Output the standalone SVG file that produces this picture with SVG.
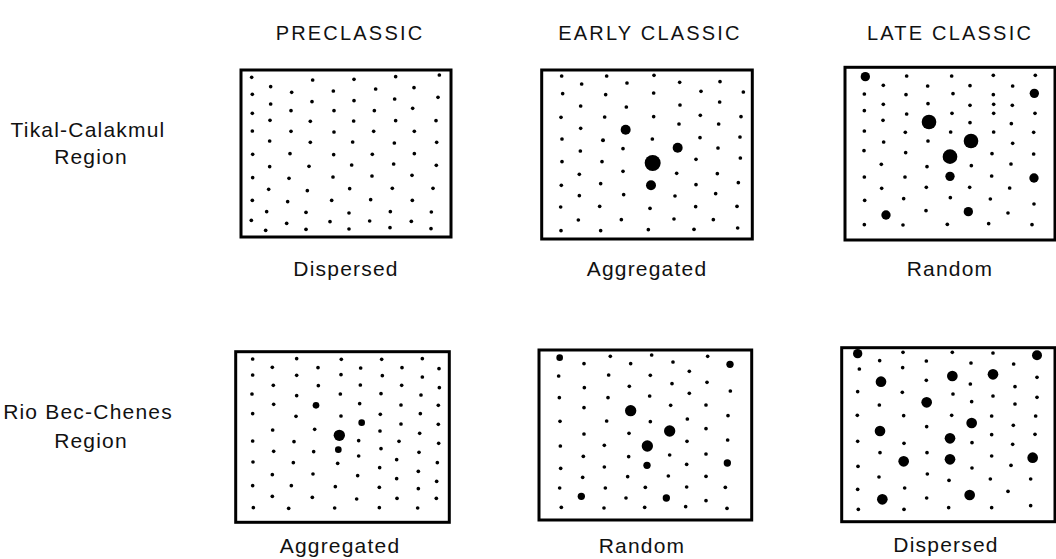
<svg xmlns="http://www.w3.org/2000/svg" width="1056" height="559" viewBox="0 0 1056 559">
<style>
.bg{fill:#fff}
.box{fill:#fff;stroke:#000;stroke-width:3}
.dots circle{fill:#000}
.hdr{font-family:"Liberation Sans",Arial,sans-serif;font-size:20px;letter-spacing:2.2px;text-anchor:middle;fill:#111}
.lbl{font-family:"Liberation Sans",Arial,sans-serif;font-size:21px;letter-spacing:1.2px;text-anchor:middle;fill:#111}
</style>
<rect class="bg" x="0" y="0" width="1056" height="559"/>
<g id="headers">
<text class="hdr" x="350" y="40">PRECLASSIC</text>
<text class="hdr" x="650" y="40">EARLY CLASSIC</text>
<text class="hdr" x="950" y="40">LATE CLASSIC</text>
</g>
<g id="row-labels">
<text class="lbl" x="88" y="137">Tikal-Calakmul</text>
<text class="lbl" x="91" y="164">Region</text>
<text class="lbl" x="88" y="419">Rio Bec-Chenes</text>
<text class="lbl" x="91" y="448">Region</text>
</g>
<g id="p1">
<rect class="box" x="241" y="70" width="210" height="167"/>
<g class="dots" transform="translate(230 60) scale(0.33333)">
<circle cx="65" cy="52" r="5.5"/><circle cx="248" cy="60" r="5.5"/><circle cx="372" cy="58" r="5.5"/><circle cx="497" cy="50" r="5.5"/><circle cx="628" cy="45" r="5.5"/>
<circle cx="122" cy="80" r="5.5"/><circle cx="185" cy="97" r="5.5"/><circle cx="310" cy="93" r="5.5"/><circle cx="437" cy="87" r="5.5"/><circle cx="552" cy="83" r="5.5"/>
<circle cx="67" cy="103" r="5.5"/><circle cx="122" cy="132" r="5.5"/><circle cx="246" cy="125" r="5.5"/><circle cx="372" cy="122" r="5.5"/><circle cx="494" cy="117" r="5.5"/><circle cx="624" cy="112" r="5.5"/>
<circle cx="67" cy="160" r="5.5"/><circle cx="183" cy="152" r="5.5"/><circle cx="312" cy="152" r="5.5"/><circle cx="433" cy="152" r="5.5"/><circle cx="548" cy="145" r="5.5"/>
<circle cx="120" cy="181" r="5.5"/><circle cx="241" cy="184" r="5.5"/><circle cx="371" cy="183" r="5.5"/><circle cx="497" cy="182" r="5.5"/><circle cx="618" cy="182" r="5.5"/>
<circle cx="67" cy="213" r="5.5"/><circle cx="183" cy="214" r="5.5"/><circle cx="312" cy="216" r="5.5"/><circle cx="431" cy="214" r="5.5"/><circle cx="553" cy="214" r="5.5"/>
<circle cx="119" cy="243" r="5.5"/><circle cx="241" cy="247" r="5.5"/><circle cx="368" cy="246" r="5.5"/><circle cx="493" cy="249" r="5.5"/><circle cx="620" cy="247" r="5.5"/>
<circle cx="68" cy="283" r="5.5"/><circle cx="180" cy="281" r="5.5"/><circle cx="311" cy="284" r="5.5"/><circle cx="427" cy="283" r="5.5"/><circle cx="553" cy="281" r="5.5"/>
<circle cx="119" cy="320" r="5.5"/><circle cx="237" cy="319" r="5.5"/><circle cx="365" cy="315" r="5.5"/><circle cx="491" cy="312" r="5.5"/><circle cx="619" cy="316" r="5.5"/>
<circle cx="68" cy="353" r="5.5"/><circle cx="177" cy="355" r="5.5"/><circle cx="309" cy="351" r="5.5"/><circle cx="426" cy="348" r="5.5"/><circle cx="546" cy="346" r="5.5"/>
<circle cx="116" cy="388" r="5.5"/><circle cx="232" cy="392" r="5.5"/><circle cx="359" cy="386" r="5.5"/><circle cx="487" cy="385" r="5.5"/><circle cx="609" cy="385" r="5.5"/>
<circle cx="67" cy="421" r="5.5"/><circle cx="173" cy="425" r="5.5"/><circle cx="305" cy="421" r="5.5"/><circle cx="422" cy="419" r="5.5"/><circle cx="547" cy="421" r="5.5"/>
<circle cx="110" cy="455" r="5.5"/><circle cx="228" cy="457" r="5.5"/><circle cx="357" cy="459" r="5.5"/><circle cx="481" cy="455" r="5.5"/><circle cx="604" cy="456" r="5.5"/>
<circle cx="64" cy="481" r="5.5"/><circle cx="170" cy="490" r="5.5"/><circle cx="300" cy="485" r="5.5"/><circle cx="419" cy="483" r="5.5"/><circle cx="544" cy="484" r="5.5"/>
<circle cx="107" cy="511" r="5.5"/><circle cx="228" cy="508" r="5.5"/><circle cx="357" cy="507" r="5.5"/><circle cx="480" cy="503" r="5.5"/><circle cx="603" cy="506" r="5.5"/>
</g>
<text class="lbl" x="346" y="276">Dispersed</text>
</g>
<g id="p2">
<rect class="box" x="541.7" y="70" width="210.6" height="169"/>
<g class="dots" transform="translate(530 60) scale(0.33333)">
<circle cx="95" cy="48" r="5.5"/><circle cx="230" cy="48" r="5.5"/><circle cx="372" cy="46" r="5.5"/><circle cx="570" cy="65" r="5.5"/>
<circle cx="155" cy="72" r="5.5"/><circle cx="291" cy="69" r="5.5"/><circle cx="449" cy="67" r="5.5"/>
<circle cx="98" cy="101" r="5.5"/><circle cx="227" cy="104" r="5.5"/><circle cx="371" cy="99" r="5.5"/><circle cx="513" cy="94" r="5.5"/><circle cx="640" cy="96" r="5.5"/>
<circle cx="152" cy="138" r="5.5"/><circle cx="289" cy="141" r="5.5"/><circle cx="450" cy="135" r="5.5"/><circle cx="569" cy="126" r="5.5"/>
<circle cx="93" cy="172" r="5.5"/><circle cx="224" cy="171" r="5.5"/><circle cx="371" cy="170" r="5.5"/><circle cx="511" cy="166" r="5.5"/><circle cx="633" cy="170" r="5.5"/>
<circle cx="152" cy="205" r="5.5"/><circle cx="566" cy="192" r="5.5"/><circle cx="447" cy="192" r="5.5"/>
<circle cx="287" cy="209" r="15"/>
<circle cx="96" cy="237" r="5.5"/><circle cx="219" cy="241" r="6"/><circle cx="367" cy="237" r="5.5"/><circle cx="510" cy="233" r="5.5"/><circle cx="630" cy="231" r="5.5"/>
<circle cx="151" cy="273" r="5.5"/><circle cx="279" cy="266" r="5.5"/><circle cx="564" cy="264" r="5.5"/>
<circle cx="443" cy="263" r="15"/>
<circle cx="96" cy="305" r="5.5"/><circle cx="216" cy="305" r="5.5"/><circle cx="498" cy="298" r="5.5"/><circle cx="631" cy="294" r="5.5"/>
<circle cx="368" cy="309" r="24"/>
<circle cx="148" cy="343" r="5.5"/><circle cx="279" cy="334" r="5.5"/><circle cx="440" cy="340" r="5.5"/><circle cx="562" cy="341" r="5.5"/>
<circle cx="363" cy="376" r="15"/>
<circle cx="94" cy="376" r="5.5"/><circle cx="212" cy="371" r="5.5"/><circle cx="498" cy="374" r="5.5"/><circle cx="625" cy="368" r="5.5"/>
<circle cx="148" cy="407" r="5.5"/><circle cx="281" cy="404" r="5.5"/><circle cx="435" cy="408" r="5.5"/><circle cx="557" cy="401" r="5.5"/>
<circle cx="92" cy="441" r="5.5"/><circle cx="209" cy="439" r="5.5"/><circle cx="360" cy="445" r="5.5"/><circle cx="497" cy="440" r="5.5"/><circle cx="621" cy="439" r="5.5"/>
<circle cx="145" cy="480" r="5.5"/><circle cx="274" cy="479" r="5.5"/><circle cx="432" cy="477" r="5.5"/><circle cx="550" cy="479" r="5.5"/>
<circle cx="93" cy="512" r="5.5"/><circle cx="212" cy="512" r="5.5"/><circle cx="355" cy="509" r="5.5"/><circle cx="492" cy="508" r="5.5"/><circle cx="623" cy="504" r="5.5"/>
</g>
<text class="lbl" x="647" y="276">Aggregated</text>
</g>
<g id="p3">
<rect class="box" x="845" y="67.3" width="210" height="172.7"/>
<g class="dots" transform="translate(835 60) scale(0.33333)">
<circle cx="91" cy="50" r="14"/>
<circle cx="215" cy="48" r="5.5"/><circle cx="350" cy="48" r="5.5"/><circle cx="475" cy="46" r="5.5"/><circle cx="601" cy="46" r="5.5"/>
<circle cx="145" cy="76" r="5.5"/><circle cx="278" cy="78" r="5.5"/><circle cx="405" cy="77" r="5.5"/><circle cx="533" cy="78" r="5.5"/>
<circle cx="88" cy="102" r="5.5"/><circle cx="213" cy="104" r="5.5"/><circle cx="354" cy="101" r="5.5"/><circle cx="475" cy="104" r="5.5"/>
<circle cx="598" cy="100" r="14"/>
<circle cx="145" cy="133" r="5.5"/><circle cx="279" cy="131" r="5.5"/><circle cx="405" cy="136" r="5.5"/><circle cx="476" cy="133" r="5.5"/><circle cx="532" cy="136" r="5.5"/>
<circle cx="88" cy="152" r="5.5"/><circle cx="215" cy="162" r="5.5"/><circle cx="351" cy="160" r="5.5"/><circle cx="476" cy="160" r="5.5"/><circle cx="600" cy="160" r="5.5"/>
<circle cx="144" cy="181" r="5.5"/><circle cx="405" cy="188" r="5.5"/><circle cx="529" cy="191" r="5.5"/>
<circle cx="282" cy="186" r="22"/>
<circle cx="88" cy="213" r="5.5"/><circle cx="211" cy="217" r="5.5"/><circle cx="347" cy="216" r="5.5"/><circle cx="476" cy="216" r="5.5"/><circle cx="596" cy="217" r="5.5"/>
<circle cx="408" cy="243" r="22"/>
<circle cx="146" cy="246" r="5.5"/><circle cx="279" cy="243" r="5.5"/><circle cx="533" cy="250" r="5.5"/>
<circle cx="87" cy="272" r="5.5"/><circle cx="212" cy="278" r="5.5"/><circle cx="471" cy="281" r="5.5"/><circle cx="596" cy="282" r="5.5"/>
<circle cx="345" cy="290" r="22"/>
<circle cx="139" cy="313" r="5.5"/><circle cx="276" cy="320" r="5.5"/><circle cx="409" cy="317" r="5.5"/><circle cx="528" cy="312" r="5.5"/>
<circle cx="345" cy="349" r="14"/>
<circle cx="88" cy="351" r="5.5"/><circle cx="210" cy="351" r="5.5"/><circle cx="470" cy="348" r="5.5"/>
<circle cx="597" cy="354" r="14"/>
<circle cx="140" cy="385" r="5.5"/><circle cx="274" cy="382" r="5.5"/><circle cx="404" cy="382" r="5.5"/><circle cx="524" cy="384" r="5.5"/>
<circle cx="89" cy="421" r="5.5"/><circle cx="206" cy="416" r="5.5"/><circle cx="346" cy="413" r="5.5"/><circle cx="466" cy="417" r="5.5"/><circle cx="597" cy="432" r="5.5"/>
<circle cx="153" cy="465" r="14"/>
<circle cx="273" cy="452" r="5.5"/><circle cx="519" cy="459" r="5.5"/>
<circle cx="400" cy="455" r="14"/>
<circle cx="88" cy="494" r="5.5"/><circle cx="204" cy="495" r="5.5"/><circle cx="337" cy="493" r="5.5"/><circle cx="461" cy="491" r="5.5"/><circle cx="591" cy="494" r="5.5"/>
</g>
<text class="lbl" x="950" y="276">Random</text>
</g>
<g id="p4">
<rect class="box" x="235.7" y="351.7" width="213.6" height="170.6"/>
<g class="dots" transform="translate(230 325) scale(0.33333)">
<circle cx="68" cy="102" r="5.5"/><circle cx="200" cy="101" r="5.5"/><circle cx="334" cy="103" r="5.5"/><circle cx="455" cy="103" r="5.5"/><circle cx="577" cy="101" r="5.5"/>
<circle cx="127" cy="127" r="5.5"/><circle cx="264" cy="128" r="5.5"/><circle cx="392" cy="129" r="5.5"/><circle cx="516" cy="128" r="5.5"/><circle cx="627" cy="131" r="5.5"/>
<circle cx="68" cy="150" r="5.5"/><circle cx="200" cy="151" r="5.5"/><circle cx="333" cy="149" r="5.5"/><circle cx="457" cy="152" r="5.5"/><circle cx="577" cy="156" r="5.5"/>
<circle cx="130" cy="181" r="5.5"/><circle cx="265" cy="182" r="5.5"/><circle cx="391" cy="180" r="5.5"/><circle cx="515" cy="181" r="5.5"/><circle cx="628" cy="188" r="5.5"/>
<circle cx="66" cy="207" r="5.5"/><circle cx="200" cy="212" r="5.5"/><circle cx="331" cy="207" r="5.5"/><circle cx="453" cy="206" r="5.5"/><circle cx="573" cy="210" r="5.5"/>
<circle cx="258" cy="241" r="10"/>
<circle cx="131" cy="238" r="5.5"/><circle cx="389" cy="236" r="5.5"/><circle cx="513" cy="240" r="5.5"/><circle cx="625" cy="241" r="5.5"/>
<circle cx="68" cy="266" r="5.5"/><circle cx="198" cy="274" r="5.5"/><circle cx="333" cy="273" r="5.5"/><circle cx="451" cy="268" r="5.5"/><circle cx="571" cy="266" r="5.5"/>
<circle cx="395" cy="293" r="10"/>
<circle cx="128" cy="315" r="5.5"/><circle cx="254" cy="313" r="5.5"/><circle cx="450" cy="318" r="5.5"/><circle cx="513" cy="297" r="5.5"/><circle cx="569" cy="325" r="5.5"/><circle cx="625" cy="298" r="5.5"/>
<circle cx="328" cy="331" r="17"/>
<circle cx="68" cy="348" r="5.5"/><circle cx="192" cy="350" r="5.5"/><circle cx="386" cy="347" r="5.5"/><circle cx="507" cy="349" r="5.5"/><circle cx="626" cy="355" r="5.5"/>
<circle cx="325" cy="374" r="10"/>
<circle cx="131" cy="379" r="5.5"/><circle cx="251" cy="380" r="5.5"/><circle cx="453" cy="371" r="5.5"/><circle cx="567" cy="382" r="5.5"/>
<circle cx="69" cy="411" r="5.5"/><circle cx="190" cy="413" r="5.5"/><circle cx="323" cy="415" r="5.5"/><circle cx="386" cy="393" r="5.5"/><circle cx="500" cy="404" r="5.5"/><circle cx="622" cy="413" r="5.5"/>
<circle cx="127" cy="449" r="5.5"/><circle cx="249" cy="447" r="5.5"/><circle cx="383" cy="452" r="5.5"/><circle cx="449" cy="428" r="5.5"/><circle cx="565" cy="439" r="5.5"/><circle cx="620" cy="469" r="5.5"/>
<circle cx="68" cy="482" r="5.5"/><circle cx="184" cy="482" r="5.5"/><circle cx="316" cy="485" r="5.5"/><circle cx="448" cy="487" r="5.5"/><circle cx="500" cy="461" r="5.5"/><circle cx="565" cy="491" r="5.5"/>
<circle cx="127" cy="514" r="5.5"/><circle cx="247" cy="517" r="5.5"/><circle cx="380" cy="522" r="5.5"/><circle cx="501" cy="520" r="5.5"/><circle cx="619" cy="520" r="5.5"/>
<circle cx="70" cy="548" r="5.5"/><circle cx="176" cy="550" r="5.5"/><circle cx="314" cy="549" r="5.5"/><circle cx="448" cy="548" r="5.5"/><circle cx="563" cy="549" r="5.5"/>
</g>
<text class="lbl" x="340" y="553">Aggregated</text>
</g>
<g id="p5">
<rect class="box" x="539" y="350" width="212.7" height="170"/>
<g class="dots" transform="translate(530 325) scale(0.33333)">
<circle cx="89" cy="98" r="10"/>
<circle cx="162" cy="116" r="5.5"/><circle cx="241" cy="94" r="5.5"/><circle cx="302" cy="116" r="5.5"/><circle cx="365" cy="90" r="5.5"/><circle cx="429" cy="111" r="5.5"/><circle cx="533" cy="94" r="5.5"/>
<circle cx="600" cy="118" r="11"/>
<circle cx="86" cy="153" r="5.5"/><circle cx="236" cy="150" r="5.5"/><circle cx="361" cy="151" r="5.5"/><circle cx="478" cy="139" r="5.5"/>
<circle cx="163" cy="188" r="5.5"/><circle cx="298" cy="184" r="5.5"/><circle cx="426" cy="176" r="5.5"/><circle cx="531" cy="172" r="5.5"/><circle cx="601" cy="198" r="5.5"/>
<circle cx="88" cy="218" r="5.5"/><circle cx="234" cy="218" r="5.5"/><circle cx="359" cy="213" r="5.5"/><circle cx="478" cy="205" r="5.5"/>
<circle cx="162" cy="248" r="5.5"/><circle cx="422" cy="241" r="5.5"/><circle cx="528" cy="240" r="5.5"/>
<circle cx="302" cy="257" r="17"/>
<circle cx="90" cy="289" r="5.5"/><circle cx="230" cy="288" r="5.5"/><circle cx="361" cy="290" r="5.5"/><circle cx="472" cy="282" r="5.5"/><circle cx="594" cy="272" r="5.5"/>
<circle cx="419" cy="318" r="17"/>
<circle cx="162" cy="327" r="5.5"/><circle cx="297" cy="325" r="5.5"/><circle cx="528" cy="311" r="5.5"/>
<circle cx="91" cy="363" r="5.5"/><circle cx="223" cy="361" r="5.5"/><circle cx="471" cy="349" r="5.5"/><circle cx="593" cy="345" r="5.5"/>
<circle cx="352" cy="363" r="17"/>
<circle cx="160" cy="394" r="5.5"/><circle cx="296" cy="395" r="5.5"/><circle cx="419" cy="390" r="5.5"/><circle cx="528" cy="387" r="5.5"/>
<circle cx="351" cy="421" r="11"/><circle cx="592" cy="414" r="11"/>
<circle cx="92" cy="430" r="5.5"/><circle cx="223" cy="426" r="5.5"/><circle cx="470" cy="418" r="5.5"/>
<circle cx="158" cy="457" r="5.5"/><circle cx="293" cy="455" r="5.5"/><circle cx="415" cy="453" r="5.5"/><circle cx="528" cy="454" r="5.5"/>
<circle cx="89" cy="489" r="5.5"/><circle cx="226" cy="489" r="5.5"/><circle cx="346" cy="487" r="5.5"/><circle cx="470" cy="486" r="5.5"/><circle cx="586" cy="487" r="5.5"/>
<circle cx="154" cy="514" r="11"/>
<circle cx="288" cy="519" r="5.5"/><circle cx="528" cy="527" r="5.5"/>
<circle cx="409" cy="519" r="11"/>
<circle cx="94" cy="547" r="5.5"/><circle cx="222" cy="549" r="5.5"/><circle cx="344" cy="547" r="5.5"/><circle cx="467" cy="545" r="5.5"/><circle cx="591" cy="550" r="5.5"/>
</g>
<text class="lbl" x="642" y="553">Random</text>
</g>
<g id="p6">
<rect class="box" x="841.7" y="347.7" width="213.3" height="174"/>
<g class="dots" transform="translate(835 325) scale(0.33333)">
<circle cx="68" cy="86" r="14"/>
<circle cx="204" cy="82" r="5.5"/><circle cx="352" cy="82" r="5.5"/><circle cx="474" cy="84" r="5.5"/>
<circle cx="606" cy="91" r="15"/>
<circle cx="134" cy="107" r="5.5"/><circle cx="274" cy="108" r="5.5"/><circle cx="408" cy="114" r="5.5"/><circle cx="536" cy="117" r="5.5"/>
<circle cx="73" cy="132" r="5.5"/><circle cx="203" cy="128" r="5.5"/><circle cx="606" cy="157" r="5.5"/>
<circle cx="138" cy="170" r="16"/><circle cx="352" cy="153" r="16"/><circle cx="474" cy="148" r="16"/>
<circle cx="274" cy="166" r="5.5"/><circle cx="406" cy="177" r="5.5"/><circle cx="540" cy="185" r="5.5"/>
<circle cx="68" cy="200" r="5.5"/><circle cx="202" cy="202" r="5.5"/><circle cx="354" cy="207" r="5.5"/><circle cx="474" cy="213" r="5.5"/><circle cx="606" cy="217" r="5.5"/>
<circle cx="275" cy="232" r="16"/>
<circle cx="133" cy="240" r="5.5"/><circle cx="410" cy="230" r="5.5"/><circle cx="540" cy="237" r="5.5"/>
<circle cx="67" cy="271" r="5.5"/><circle cx="206" cy="272" r="5.5"/><circle cx="350" cy="271" r="5.5"/><circle cx="470" cy="273" r="5.5"/><circle cx="602" cy="273" r="5.5"/>
<circle cx="410" cy="294" r="16"/>
<circle cx="275" cy="305" r="5.5"/><circle cx="535" cy="301" r="5.5"/>
<circle cx="135" cy="318" r="16"/>
<circle cx="470" cy="329" r="5.5"/><circle cx="600" cy="328" r="5.5"/>
<circle cx="345" cy="340" r="16"/>
<circle cx="68" cy="349" r="5.5"/><circle cx="207" cy="355" r="5.5"/><circle cx="411" cy="353" r="5.5"/><circle cx="533" cy="358" r="5.5"/>
<circle cx="135" cy="383" r="5.5"/><circle cx="276" cy="383" r="5.5"/><circle cx="470" cy="393" r="5.5"/><circle cx="528" cy="421" r="5.5"/>
<circle cx="206" cy="409" r="16"/><circle cx="345" cy="403" r="16"/><circle cx="593" cy="398" r="16"/>
<circle cx="69" cy="424" r="5.5"/><circle cx="411" cy="429" r="5.5"/><circle cx="277" cy="447" r="5.5"/><circle cx="342" cy="466" r="5.5"/><circle cx="466" cy="462" r="5.5"/><circle cx="587" cy="462" r="5.5"/>
<circle cx="132" cy="456" r="5.5"/>
<circle cx="68" cy="493" r="5.5"/><circle cx="209" cy="489" r="5.5"/><circle cx="275" cy="519" r="5.5"/><circle cx="519" cy="499" r="5.5"/>
<circle cx="142" cy="523" r="16"/><circle cx="404" cy="510" r="16"/>
<circle cx="70" cy="553" r="5.5"/><circle cx="207" cy="553" r="5.5"/><circle cx="341" cy="548" r="5.5"/><circle cx="470" cy="548" r="5.5"/><circle cx="587" cy="542" r="5.5"/>
</g>
<text class="lbl" x="946" y="552">Dispersed</text>
</g>
</svg>
